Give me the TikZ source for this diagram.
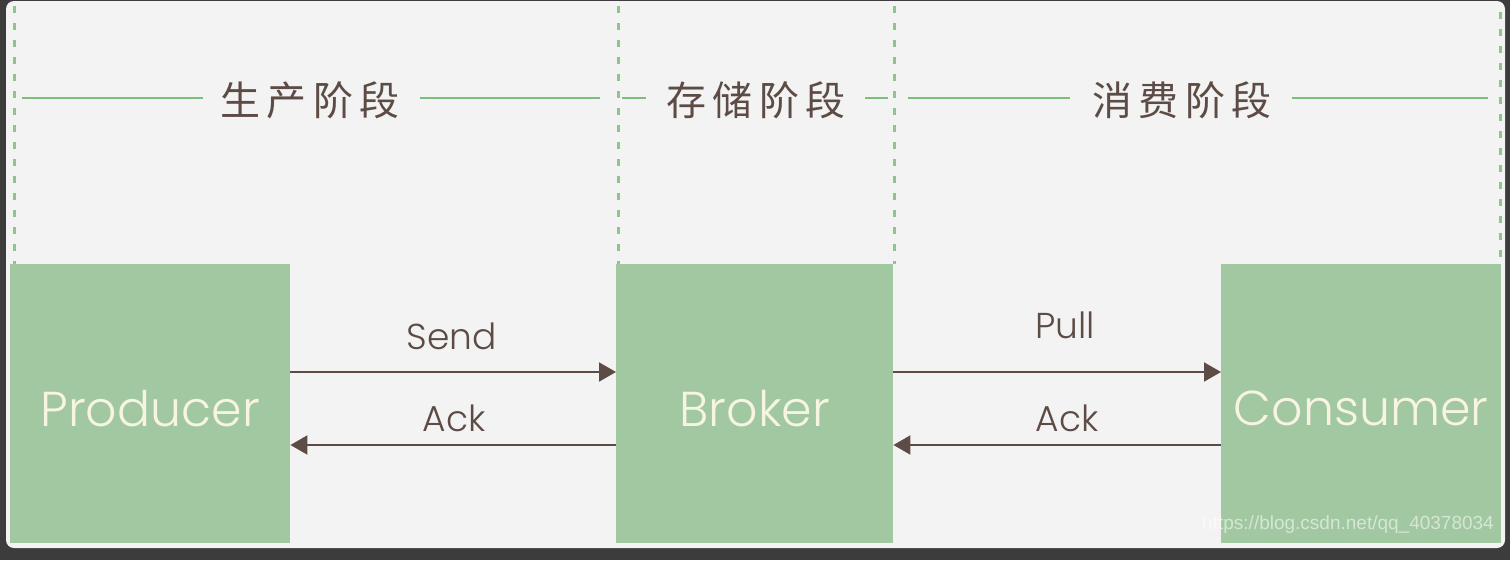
\documentclass[tikz,border=0pt]{standalone}
\usepackage{fontspec}
\usetikzlibrary{arrows.meta}
\newfontfamily\cjk[LetterSpace=16]{Noto Sans CJK SC}
\newfontfamily\lat{Poppins Light}
\newfontfamily\wm{Liberation Sans}
\definecolor{darkbg}{HTML}{3C3C3C}
\definecolor{panel}{HTML}{F3F3F3}
\definecolor{boxgreen}{HTML}{A2C8A2}
\definecolor{linegreen}{HTML}{7DBE7D}
\definecolor{dashgreen}{HTML}{8CC68C}
\definecolor{brown}{HTML}{5D4B45}
\definecolor{boxtext}{HTML}{F7F5E2}
\tikzset{
  stagebox/.style={draw=none, fill=boxgreen, inner sep=0pt, anchor=north west},
  boxlabel/.style={text=boxtext, font=\lat\fontsize{49}{54}\selectfont},
  heading/.style={text=brown, font=\cjk\fontsize{40}{44}\selectfont, inner sep=0pt},
  msg/.style={text=brown, font=\lat\fontsize{36}{40}\selectfont, inner sep=0pt},
  flow/.style={draw=brown, line width=2pt, -{Triangle[length=17pt,width=19pt]}},
  sepline/.style={draw=dashgreen, line width=3pt, dash pattern=on 7pt off 10pt},
  headline/.style={draw=linegreen, line width=2.5pt},
}
\begin{document}
\begin{tikzpicture}[x=1pt,y=-1pt]
\fill[darkbg] (0,0) rectangle (1510,560);
\useasboundingbox (0,0) rectangle (1510,560);
\fill[panel, rounded corners=8pt] (6,1) rectangle (1505,548);
% separators
\coordinate (s1a) at (14,6);   \coordinate (s1b) at (14,264);
\coordinate (s2a) at (618,6);  \coordinate (s2b) at (618,264);
\coordinate (s3a) at (894,6);  \coordinate (s3b) at (894,264);
\coordinate (s4a) at (1500,12); \coordinate (s4b) at (1500,264);
\draw[sepline] (s1a) -- (s1b);
\draw[sepline] (s2a) -- (s2b);
\draw[sepline] (s3a) -- (s3b);
\draw[sepline] (s4a) -- (s4b);
% headings
\node[heading] (h1) at (310,100) {生产阶段};
\node[heading] (h2) at (756,100) {存储阶段};
\node[heading] (h3) at (1182,100) {消费阶段};
\coordinate (l1a) at (22,98);   \coordinate (l1b) at (203,98);
\coordinate (l1c) at (420,98);  \coordinate (l1d) at (600,98);
\coordinate (l2a) at (622,98);  \coordinate (l2b) at (646,98);
\coordinate (l2c) at (865,98);  \coordinate (l2d) at (888,98);
\coordinate (l3a) at (908,98);  \coordinate (l3b) at (1070,98);
\coordinate (l3c) at (1292,98); \coordinate (l3d) at (1488,98);
\draw[headline] (l1a) -- (l1b);
\draw[headline] (l1c) -- (l1d);
\draw[headline] (l2a) -- (l2b);
\draw[headline] (l2c) -- (l2d);
\draw[headline] (l3a) -- (l3b);
\draw[headline] (l3c) -- (l3d);
% boxes
\node[stagebox, minimum width=280pt, minimum height=279pt] (prod) at (10,264) {};
\node[stagebox, minimum width=277pt, minimum height=279pt] (brok) at (616,264) {};
\node[stagebox, minimum width=280pt, minimum height=279pt] (cons) at (1221,264) {};
\node[boxlabel] (prodl) at ([yshift=-5pt]prod.center) {Producer};
\node[boxlabel] (brokl) at ([yshift=-5pt]brok.center) {Broker};
\node[boxlabel] (consl) at ([yshift=-5pt]cons.center) {Consumer};
% arrows
\draw[flow] ([yshift=-108pt]prod.north east) -- ([yshift=-108pt]brok.north west);
\draw[flow] ([yshift=-181pt]brok.north west) -- ([yshift=-181pt]prod.north east);
\draw[flow] ([yshift=-108pt]brok.north east) -- ([yshift=-108pt]cons.north west);
\draw[flow] ([yshift=-181pt]cons.north west) -- ([yshift=-181pt]brok.north east);
\node[msg] (send) at (452,336) {Send};
\node[msg] (ack1) at (454,418) {Ack};
\node[msg] (pull) at (1065,325) {Pull};
\node[msg] (ack2) at (1067,418) {Ack};
% watermark
\node[text=white, opacity=0.55, font=\wm\fontsize{19}{22}\selectfont, anchor=east, inner sep=0pt] (wmk) at (1494,525) {https://blog.csdn.net/qq\_40378034};
\end{tikzpicture}
\end{document}
